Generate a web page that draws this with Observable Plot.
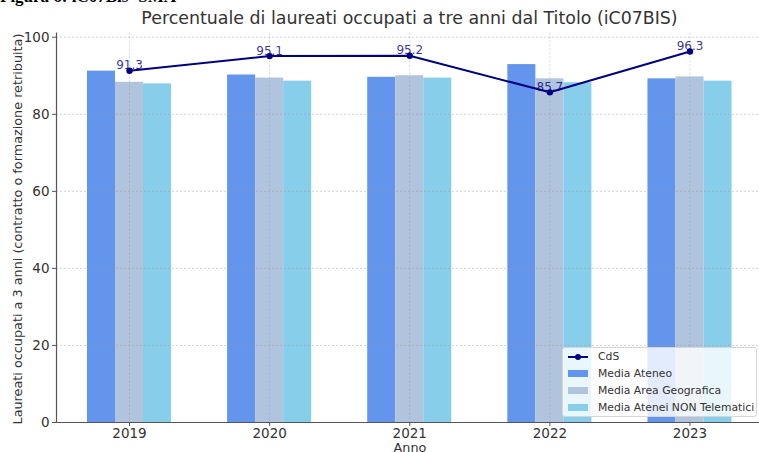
<!DOCTYPE html>
<html>
<head>
<meta charset="utf-8">
<script src="https://cdn.jsdelivr.net/npm/d3@7"></script>
<script src="https://cdn.jsdelivr.net/npm/@observablehq/plot@0.6"></script>
<style>
  html, body { margin: 0; padding: 0; background: #fff; }
  body { width: 759px; height: 452px; overflow: hidden; position: relative; font-family: "DejaVu Sans", sans-serif; }
  #fig { position: absolute; left: 0; top: -13px; font-family: "Liberation Serif", serif; font-weight: bold; font-size: 17px; color: #000; white-space: nowrap; }
  #title { position: absolute; left: 56px; width: 707px; top: 8px; text-align: center; font-size: 17.4px; color: #333; white-space: nowrap; }
  #ylab { position: absolute; left: 17px; top: 229px; transform: translate(-50%, -50%) rotate(-90deg); font-size: 12.8px; color: #333; white-space: nowrap; }
  #xlab { position: absolute; left: 410px; top: 440px; transform: translateX(-50%); font-size: 12.8px; color: #333; }
  #chart { position: absolute; left: 0; top: 0; }
  #legend { position: absolute; left: 562px; top: 347px; width: 195px; height: 70px; background: rgba(255,255,255,0.82); border: 1px solid #d6d6d6; border-radius: 3px; box-sizing: border-box; padding: 0 0 0 5px; font-size: 10.8px; color: #333; white-space: nowrap; }
  .row { height: 17px; display: flex; align-items: center; white-space: nowrap; }
  .sw { width: 20px; height: 7px; margin-right: 10px; flex: none; }
  .ln { width: 20px; height: 9px; margin-right: 10px; flex: none; position: relative; }
  .ln::before { content: ""; position: absolute; left: 0; right: 0; top: 3.5px; height: 2px; background: #000080; }
  .ln::after { content: ""; position: absolute; left: 6.5px; top: 1.5px; width: 6px; height: 6px; border-radius: 50%; background: #000080; }
</style>
</head>
<body>
<div id="chart"></div>
<div id="fig">Figura 6: iC07Bis- SMA</div>
<div id="title">Percentuale di laureati occupati a tre anni dal Titolo (iC07BIS)</div>
<div id="ylab">Laureati occupati a 3 anni (contratto o formazione retribuita)</div>
<div id="xlab">Anno</div>
<div id="legend"></div>
<script>
const years = [2019, 2020, 2021, 2022, 2023];
const cds = [91.3, 95.1, 95.2, 85.7, 96.3];
const mediaAteneo = [91.2, 90.2, 89.6, 92.9, 89.2];
const mediaArea = [88.3, 89.4, 90.0, 89.2, 89.7];
const mediaNonTel = [87.9, 88.6, 89.4, 88.2, 88.6];
const seriesNames = ["Media Ateneo", "Media Area Geografica", "Media Atenei NON Telematici"];
const seriesColors = ["#6495ED", "#B0C4DE", "#87CEEB"];
const yTicks = [0, 20, 40, 60, 80, 100];

const offsets = [-0.2, 0, 0.2];
const barWidth = 0.2;
const barSeries = [mediaAteneo, mediaArea, mediaNonTel];
const bars = [];
barSeries.forEach((vals, s) => {
  years.forEach((yr, i) => bars.push({year: yr, series: seriesNames[s], off: offsets[s], value: vals[i]}));
});
const line = years.map((yr, i) => ({year: yr, value: cds[i]}));

const xDomain = [2018.479, 2023.496];

const chart = Plot.plot({
  width: 759,
  height: 452,
  marginLeft: 56,
  marginRight: 0,
  marginTop: 32.5,
  marginBottom: 30,
  style: {fontFamily: "DejaVu Sans, sans-serif", color: "#333", background: "transparent"},
  x: {domain: xDomain, label: null},
  y: {domain: [0, 101.1], label: null},
  color: {domain: seriesNames, range: seriesColors},
  marks: [
    Plot.rectY(bars, {x1: d => d.year + d.off - barWidth / 2, x2: d => d.year + d.off + barWidth / 2, y1: 0, y2: "value", fill: "series"}),
    Plot.gridY(yTicks, {stroke: "#9a9a9a", strokeOpacity: 0.55, strokeDasharray: "2,2", strokeWidth: 0.8}),
    Plot.gridX(years, {stroke: "#9a9a9a", strokeOpacity: 0.55, strokeDasharray: "2,2", strokeWidth: 0.8}),
    Plot.ruleX([xDomain[0]], {stroke: "#555", strokeWidth: 1.2}),
    Plot.ruleY([0], {stroke: "#555", strokeWidth: 1.2}),
    Plot.axisY(yTicks, {tickSize: 4, tickPadding: 3, fontSize: 13.5, label: null, stroke: "#555"}),
    Plot.axisX(years, {tickSize: 4, tickPadding: 2, fontSize: 13.5, tickFormat: "d", label: null, stroke: "#555"}),
    Plot.line(line, {x: "year", y: "value", stroke: "#000080", strokeWidth: 2}),
    Plot.dot(line, {x: "year", y: "value", fill: "#000080", r: 3.2}),
    Plot.text(line, {x: "year", y: "value", text: d => d.value.toFixed(1), lineAnchor: "bottom", dy: -1.5, fill: "#000080", fontSize: 12, fillOpacity: 0.8})
  ]
});
document.getElementById("chart").appendChild(chart);

const legend = document.getElementById("legend");
const lr = document.createElement("div");
lr.className = "row";
lr.innerHTML = '<span class="ln"></span><span>CdS</span>';
legend.appendChild(lr);
seriesNames.forEach((n, i) => {
  const r = document.createElement("div");
  r.className = "row";
  r.innerHTML = `<span class="sw" style="background:${seriesColors[i]}"></span><span>${n}</span>`;
  legend.appendChild(r);
});
</script>
</body>
</html>
